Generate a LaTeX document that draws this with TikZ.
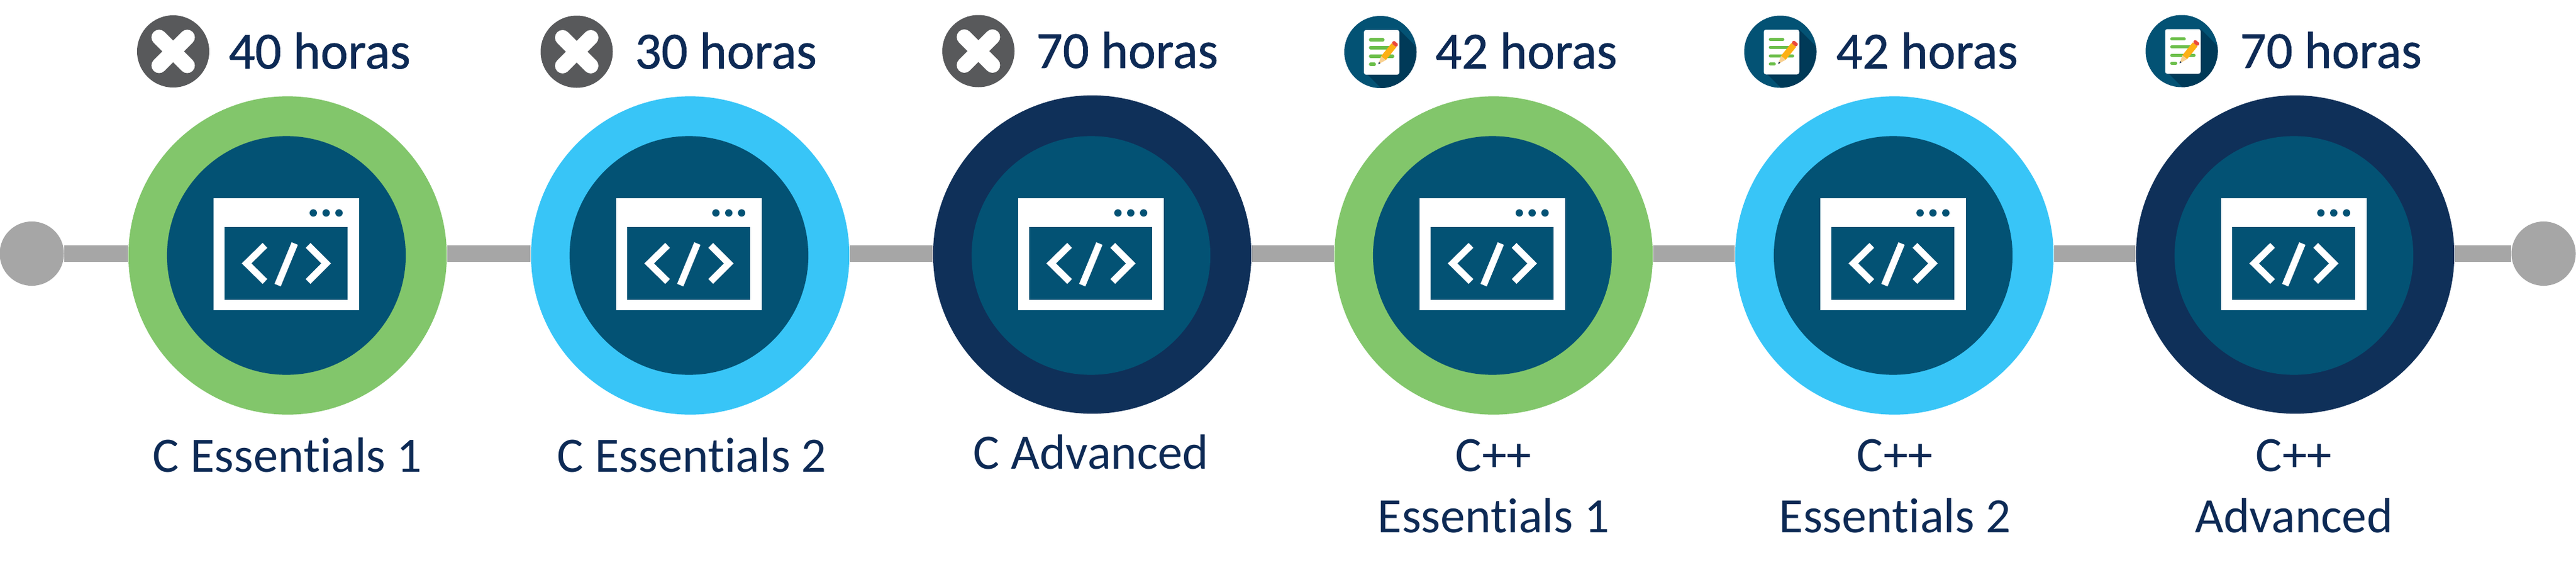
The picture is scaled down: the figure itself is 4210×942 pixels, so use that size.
\documentclass[tikz,border=0pt]{standalone}
\usepackage{fontspec}
\setmainfont[Ligatures=NoCommon]{Carlito}
\newfontfamily\hoursfont[Ligatures=NoCommon,FakeBold=0.8]{Carlito}
\definecolor{ringgreen}{HTML}{82C66B}
\definecolor{ringblue}{HTML}{38C5F7}
\definecolor{ringnavy}{HTML}{0F3059}
\definecolor{coreteal}{HTML}{035274}
\definecolor{linegray}{HTML}{A6A6A6}
\definecolor{crossgray}{HTML}{58595B}
\definecolor{inktext}{HTML}{0D2A55}
\definecolor{shadeteal}{HTML}{003A58}
\definecolor{notegreen}{HTML}{6CBF4B}
\definecolor{pencilbody}{HTML}{FDB014}
\definecolor{pencilwood}{HTML}{F8CF8E}
\definecolor{pencilend}{HTML}{EB4A3A}
\tikzset{
    ring/.style={circle,inner sep=0pt,minimum size=5.2cm},
    core/.style={circle,inner sep=0pt,minimum size=3.9cm,fill=coreteal},
    enddot/.style={circle,inner sep=0pt,minimum size=1.05cm,fill=linegray},
    coursename/.style={text=inktext,font=\fontsize{23}{28.2}\selectfont,align=center,anchor=base},
    hours/.style={text=inktext,font=\hoursfont\fontsize{24.2}{30}\selectfont,anchor=base west,inner sep=0pt},
    tie/.style={draw=linegray,line width=0.27cm},
    noteline/.style={draw=notegreen,line width=0.055cm,line cap=round},
    codeline/.style={draw=white,line width=0.11cm},
}
% window with the code sign, centred on the ring
\newcommand{\codewindow}[2]{
    \begin{scope}[shift={(#1,#2)}]
        \fill[white] (-119,-91.5) rectangle (119,91.5);
        \fill[coreteal] (-101,-44.5) rectangle (100,74.5);
        \fill[coreteal] (44,-67.5) circle (6) (65,-67.5) circle (6) (86,-67.5) circle (6);
        \draw[codeline] (-35,-14.5) -- (-65,15) -- (-35,44.5);
        \draw[codeline] (35.5,-14.5) -- (65,15) -- (35.5,44.5);
        \draw[codeline] (13.7,-17.5) -- (-14.3,50.5);
    \end{scope}
}
\newcommand{\crossicon}[2]{
    \fill[crossgray] (#1,#2) circle (59);
    \draw[white,line width=0.25cm,line cap=round] (#1-23,#2-23) -- (#1+23,#2+23);
    \draw[white,line width=0.25cm,line cap=round] (#1-23,#2+23) -- (#1+23,#2-23);
}
\newcommand{\noteicon}[2]{
    \begin{scope}[shift={(#1,#2)}]
        \fill[coreteal] (0,0) circle (59);
        \begin{scope}
            \clip (0,0) circle (59);
            \fill[shadeteal] (31,-36) -- (131,64) -- (79,137) -- (-21,37) -- cycle;
        \end{scope}
        \fill[white,rounded corners=1pt] (-27,-36) rectangle (31,37);
        \draw[noteline] (-16,-20) -- (4,-20);
        \draw[noteline] (-16,-7) -- (20,-7);
        \draw[noteline] (-16,7) -- (20,7);
        \draw[noteline] (-16,20) -- (-10,20);
        \fill[pencilbody] (1.1,6.8) -- (18.1,-14.2) -- (25.9,-7.8) -- (8.9,13.2) -- cycle;
        \fill[pencilwood] (1.1,6.8) -- (8.9,13.2) -- (-3.3,20) -- cycle;
        \fill[inktext] (-3.3,20) -- (-2.5,16.5) -- (0,18.2) -- cycle;
        \fill[pencilend,rounded corners=0.5pt] (18.1,-14.2) -- (25.9,-7.8) -- (29.6,-12.5) -- (21.8,-18.9) -- cycle;
    \end{scope}
}

\begin{document}
\begin{tikzpicture}[x=0.01cm,y=-0.01cm]
    \useasboundingbox (0,0) rectangle (4210,942);
    \node[enddot] (startdot) at (52,414.5) {};
    \node[enddot] (enddot) at (4157,414.5) {};
    \node[ring,fill=ringgreen] (ring1) at (470,417.5) {};
    \node[ring,fill=ringblue] (ring2) at (1128,417.5) {};
    \node[ring,fill=ringnavy] (ring3) at (1785,416) {};
    \node[ring,fill=ringgreen] (ring4) at (2441,417.5) {};
    \node[ring,fill=ringblue] (ring5) at (3096,417.5) {};
    \node[ring,fill=ringnavy] (ring6) at (3751,416) {};
    \draw[tie] (startdot) -- (ring1.west |- startdot);
    \draw[tie] (ring1.east |- startdot) -- (ring2.west |- startdot);
    \draw[tie] (ring2.east |- startdot) -- (ring3.west |- startdot);
    \draw[tie] (ring3.east |- startdot) -- (ring4.west |- startdot);
    \draw[tie] (ring4.east |- startdot) -- (ring5.west |- startdot);
    \draw[tie] (ring5.east |- startdot) -- (ring6.west |- startdot);
    \draw[tie] (ring6.east |- startdot) -- (enddot);
    \node[core] (core1) at (468,417.5) {};
    \node[core] (core2) at (1126,417.5) {};
    \node[core] (core3) at (1783,417.5) {};
    \node[core] (core4) at (2439,417.5) {};
    \node[core] (core5) at (3094,417.5) {};
    \node[core] (core6) at (3749,417.5) {};
    \codewindow{468}{415.5}
    \codewindow{1126}{415.5}
    \codewindow{1783}{415.5}
    \codewindow{2439}{415.5}
    \codewindow{3094}{415.5}
    \codewindow{3749}{415.5}
    \crossicon{283}{84}
    \crossicon{942.5}{84.5}
    \crossicon{1599}{83.5}
    \noteicon{2256}{85}
    \noteicon{2909.5}{84.5}
    \noteicon{3565.5}{83.5}
    \node[hours] (hours1) at (373,112) {40 horas};
    \node[hours] (hours2) at (1037,112) {30 horas};
    \node[hours] (hours3) at (1693,111) {70 horas};
    \node[hours] (hours4) at (2345,112) {42 horas};
    \node[hours] (hours5) at (3000,112) {42 horas};
    \node[hours] (hours6) at (3660,111) {70 horas};
    \node[coursename] (name1) at (470,771) {C Essentials 1};
    \node[coursename] (name2) at (1131,771) {C Essentials 2};
    \node[coursename] (name3) at (1783,766) {C Advanced};
    \node[coursename] (name4) at (2441,870) {C++\\Essentials 1};
    \node[coursename] (name5) at (3097,870) {C++\\Essentials 2};
    \node[coursename] (name6) at (3749,870) {C++\\Advanced};
\end{tikzpicture}
\end{document}
